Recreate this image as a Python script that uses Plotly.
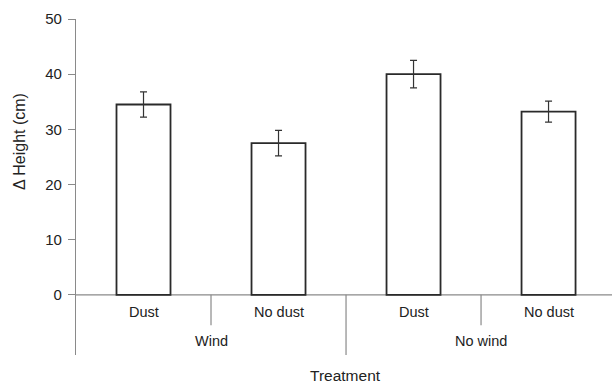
import plotly.graph_objects as go

outer = ["Wind", "Wind", "No wind", "No wind"]
inner = ["Dust", "No dust", "Dust", "No dust"]
heights = [34.5, 27.5, 40.0, 33.2]
errors = [2.3, 2.3, 2.5, 1.9]
yticks = [0, 10, 20, 30, 40, 50]

FONT = "Liberation Sans, Arial"
pos = list(range(len(inner)))
fig = go.Figure()
fig.add_trace(go.Bar(
    x=pos, y=heights, width=0.4,
    marker=dict(color="white", line=dict(color="#2a2a2a", width=1.8)),
    error_y=dict(type="data", array=errors, color="#333", thickness=1.2, width=3.5),
    showlegend=False,
))

ymin = -10.9
grey = "#8a8a8a"
fig.add_shape(type="line", xref="x", yref="y", x0=-0.5, x1=3.5, y0=0, y1=0,
              line=dict(color=grey, width=1.2), layer="below")
for i in range(1, len(inner)):
    xb = i - 0.5
    long = outer[i] != outer[i - 1]
    fig.add_shape(type="line", xref="x", yref="y", x0=xb, x1=xb, y0=0,
                  y1=ymin if long else -5.5, line=dict(color=grey, width=1.2))
for p, t in zip(pos, inner):
    fig.add_annotation(x=p, y=-3.1, xref="x", yref="y", text=t, showarrow=False,
                       font=dict(size=14.5, color="#222", family=FONT))
groups = []
for p, o in zip(pos, outer):
    if groups and groups[-1][0] == o:
        groups[-1][1].append(p)
    else:
        groups.append([o, [p]])
for o, ps in groups:
    fig.add_annotation(x=sum(ps) / len(ps), y=-8.3, xref="x", yref="y", text=o,
                       showarrow=False, font=dict(size=14.5, color="#222", family=FONT))
fig.add_annotation(x=(345 - 76) / 536, xref="paper", y=-(375 - 355) / 336, yref="paper",
                   xanchor="center", yanchor="middle", text="Treatment", showarrow=False,
                   font=dict(size=15.5, color="#222", family=FONT))
fig.add_annotation(x=(19 - 76) / 536, xref="paper", y=(355 - 142) / 336, yref="paper",
                   xanchor="center", yanchor="middle", textangle=-90,
                   text="Δ Height (cm)", showarrow=False,
                   font=dict(size=16, color="#222", family=FONT))

fig.update_layout(
    width=612, height=385, autosize=False,
    margin=dict(l=76, r=0, t=19, b=30),
    plot_bgcolor="white", paper_bgcolor="white",
    font=dict(family=FONT, color="#222", size=14),
    xaxis=dict(range=[-0.5, 3.47], showticklabels=False, showgrid=False,
               zeroline=False, showline=False, ticks="", automargin=False),
    yaxis=dict(range=[ymin, 50], tickvals=yticks, showgrid=False, zeroline=False,
               showline=True, linecolor=grey, linewidth=1.2, ticks="outside",
               ticklen=7, tickcolor=grey, ticklabelstandoff=3,
               tickfont=dict(size=15, color="#222", family=FONT), automargin=False),
)
fig.write_html("out.html", config={"responsive": False, "displayModeBar": False},
               default_width="612px", default_height="385px",
               post_script="document.body.style.margin='0';document.body.style.overflow='hidden';")
